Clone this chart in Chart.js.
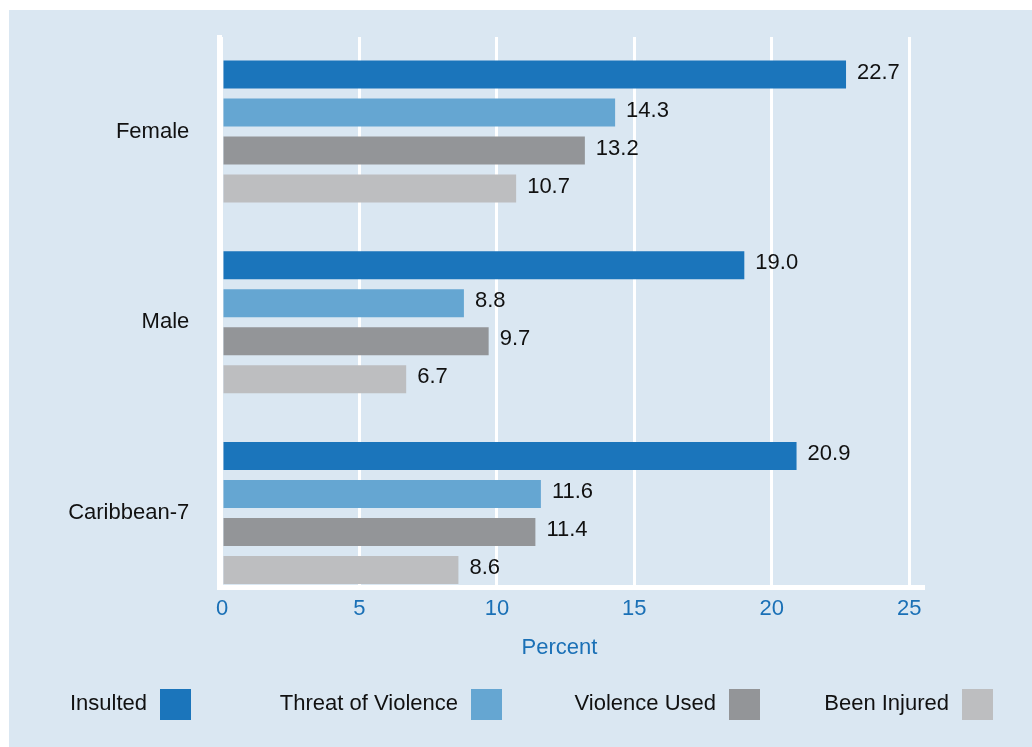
<!DOCTYPE html>
<html>
<head>
<meta charset="utf-8">
<script src="https://cdn.jsdelivr.net/npm/chart.js@4.4.1/dist/chart.umd.min.js"></script>
<style>
  html, body { margin: 0; padding: 0; background: #ffffff; }
  canvas { display: block; }
</style>
</head>
<body>
<canvas id="c" width="1032" height="747"></canvas>
<script>
// ---- data ----
const categories = ["Female", "Male", "Caribbean-7"];
const seriesNames = ["Insulted", "Threat of Violence", "Violence Used", "Been Injured"];
const insulted = [22.7, 19.0, 20.9];
const threatOfViolence = [14.3, 8.8, 11.6];
const violenceUsed = [13.2, 9.7, 11.4];
const beenInjured = [10.7, 6.7, 8.6];
const xTickValues = [0, 5, 10, 15, 20, 25];
const xAxisTitle = "Percent";

// ---- styles / layout ----
const colors = ["#1b75bb", "#65a6d2", "#939598", "#bdbec0"];
const panelColor = "#dae7f2";
const tickBlue = "#1a70b6";
const fontFamily = "'Liberation Sans', Arial, Helvetica, sans-serif";
const legendSwatchRight = [191, 502, 760, 993];

const seriesValues = [insulted, threatOfViolence, violenceUsed, beenInjured];

const datasets = seriesNames.map((name, i) => ({
  label: name,
  data: seriesValues[i].map((v, j) => ({ x: v, y: j })),
  backgroundColor: colors[i],
  borderWidth: 0,
  categoryPercentage: 0.797,
  barPercentage: 0.737
}));

const panelPlugin = {
  id: 'panel',
  beforeDraw(chart) {
    const ctx = chart.ctx;
    ctx.save();
    ctx.fillStyle = '#ffffff';
    ctx.fillRect(0, 0, chart.width, chart.height);
    ctx.fillStyle = panelColor;
    ctx.fillRect(9, 10, chart.width - 9, chart.height - 10);
    ctx.restore();
  }
};

const valueLabelPlugin = {
  id: 'valueLabels',
  afterDatasetsDraw(chart) {
    const ctx = chart.ctx;
    ctx.save();
    ctx.font = "22px " + fontFamily;
    ctx.fillStyle = '#111111';
    ctx.textAlign = 'left';
    ctx.textBaseline = 'middle';
    chart.data.datasets.forEach((ds, di) => {
      const meta = chart.getDatasetMeta(di);
      meta.data.forEach((el, i) => {
        ctx.fillText(seriesValues[di][i].toFixed(1), el.x + 11, el.y - 2);
      });
    });
    ctx.restore();
  }
};

const legendPlugin = {
  id: 'customLegend',
  afterDraw(chart) {
    const ctx = chart.ctx;
    ctx.save();
    ctx.font = "22px " + fontFamily;
    ctx.textBaseline = 'middle';
    ctx.textAlign = 'right';
    seriesNames.forEach((name, i) => {
      const right = legendSwatchRight[i];
      const size = 31;
      ctx.fillStyle = colors[i];
      ctx.fillRect(right - size, 689, size, size);
      ctx.fillStyle = '#111111';
      ctx.fillText(name, right - size - 13, 704);
    });
    // axis title
    ctx.fillStyle = tickBlue;
    ctx.textAlign = 'center';
    ctx.fillText(xAxisTitle, 559.5, 648);
    ctx.restore();
  }
};

new Chart(document.getElementById('c'), {
  type: 'bar',
  data: { datasets },
  plugins: [panelPlugin, valueLabelPlugin, legendPlugin],
  options: {
    indexAxis: 'y',
    responsive: false,
    animation: false,
    devicePixelRatio: 1,
    layout: { padding: { top: 37, right: 109, left: 0, bottom: 0 } },
    plugins: {
      legend: { display: false },
      tooltip: { enabled: false },
      title: { display: false }
    },
    scales: {
      x: {
        type: 'linear',
        position: 'bottom',
        offset: false,
        min: -0.1,
        max: 25.5,
        afterBuildTicks: s => { s.ticks = xTickValues.map(v => ({ value: v })); },
        afterFit: s => { s.height = 747 - 587.5; s.paddingLeft = 0; s.paddingRight = 0; },
        grid: { display: true, color: '#ffffff', lineWidth: 3, drawTicks: false, offset: false },
        border: { display: true, color: '#ffffff', width: 5 },
        ticks: {
          color: tickBlue,
          font: { size: 22, family: fontFamily },
          padding: 8,
          autoSkip: false,
          maxRotation: 0
        }
      },
      y: {
        type: 'linear',
        position: 'left',
        offset: false,
        reverse: true,
        min: -0.4954,
        max: 2.3906,
        afterBuildTicks: s => { s.ticks = categories.map((c, i) => ({ value: i })); },
        afterFit: s => { s.width = 219.25; s.paddingTop = 0; s.paddingBottom = 0; },
        grid: { display: false, drawTicks: false, offset: false },
        border: { display: true, color: '#ffffff', width: 5 },
        ticks: {
          color: '#111111',
          font: { size: 22, family: fontFamily },
          padding: 30,
          autoSkip: false,
          callback: (v, i) => categories[i]
        }
      }
    }
  }
});
</script>
</body>
</html>
